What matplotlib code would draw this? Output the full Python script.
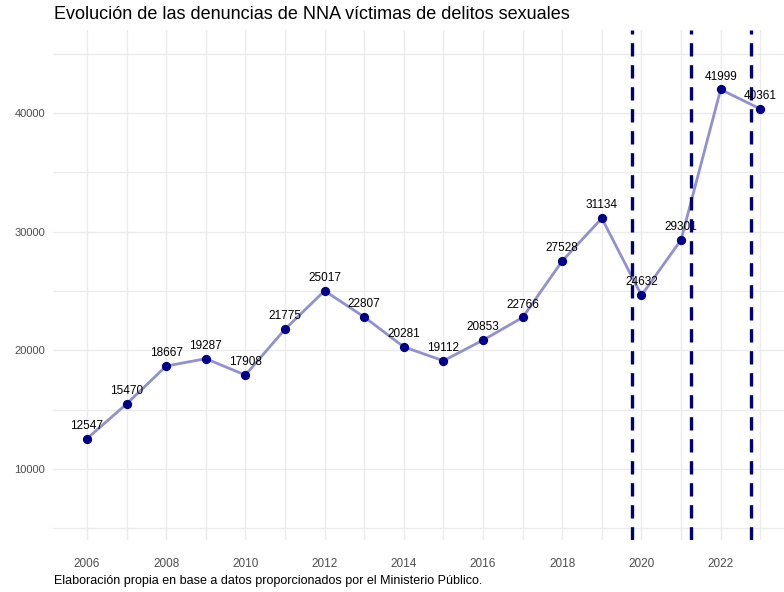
import matplotlib
matplotlib.use('Agg')
import matplotlib.pyplot as plt
from matplotlib.ticker import MultipleLocator

# data
years = [2006, 2007, 2008, 2009, 2010, 2011, 2012, 2013, 2014,
         2015, 2016, 2017, 2018, 2019, 2020, 2021, 2022, 2023]
denuncias = [12547, 15470, 18667, 19287, 17908, 21775, 25017, 22807, 20281,
             19112, 20853, 22766, 27528, 31134, 24632, 29301, 41999, 40361]
eventos = [2019.77, 2021.25, 2022.77]
titulo = 'Evolución de las denuncias de NNA víctimas de delitos sexuales'
fuente = 'Elaboración propia en base a datos proporcionados por el Ministerio Público.'

plt.rcParams['font.family'] = ['Liberation Sans', 'DejaVu Sans']

fig = plt.figure(figsize=(7.84, 5.92), dpi=100)
ax = fig.add_axes([0.068, 0.088, 0.932, 0.861])

ax.plot(years, denuncias, color='#9090d2', lw=2.0, zorder=2)
ax.scatter(years, denuncias, color='#00008b', s=32, zorder=3)
for x, y in zip(years, denuncias):
    ax.annotate(str(y), (x, y), xytext=(0, 5), textcoords='offset points',
                ha='center', va='bottom', fontsize=8.5, color='black', zorder=4)

for v in eventos:
    ax.axvline(v, color='#00007a', lw=2.4, ls=(0, (4, 2.6)), zorder=3)

ax.set_xlim(2005.15, 2023.6)
ax.set_ylim(4000, 47000)
ax.xaxis.set_major_locator(MultipleLocator(2))
ax.xaxis.set_minor_locator(MultipleLocator(1))
ax.yaxis.set_major_locator(MultipleLocator(10000))
ax.yaxis.set_minor_locator(MultipleLocator(5000))
ax.grid(which='both', color='#ebebeb', lw=1.0, zorder=0)
ax.set_axisbelow(True)
for s in ax.spines.values():
    s.set_visible(False)
ax.tick_params(which='both', length=0)
ax.tick_params(axis='y', labelsize=8, labelcolor='#4d4d4d', pad=6)
ax.tick_params(axis='x', labelsize=8.5, labelcolor='#4d4d4d', pad=13)

fig.text(0.069, 0.976, titulo, fontsize=13, va='center', ha='left')
fig.text(0.069, 0.018, fuente, fontsize=9, va='center', ha='left')

fig.savefig('out.png', dpi=100)
